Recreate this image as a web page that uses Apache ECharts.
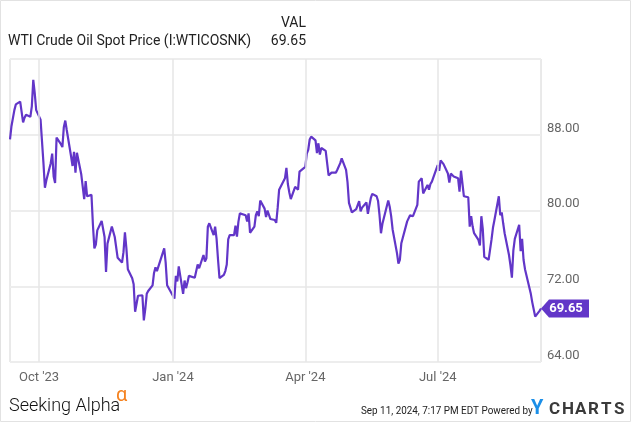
<!DOCTYPE html>
<html><head><meta charset="utf-8">
<script src="https://cdn.jsdelivr.net/npm/echarts@6/dist/echarts.min.js"></script>
<style>html,body{margin:0;padding:0;background:#fff}#c{width:635px;height:424px}</style>
</head><body><div id="c"></div>
<script>
const dates = [
'2023-09-11','2023-09-12','2023-09-13','2023-09-14','2023-09-15','2023-09-18','2023-09-19','2023-09-20','2023-09-21','2023-09-22',
'2023-09-25','2023-09-26','2023-09-27','2023-09-28','2023-09-29','2023-10-02','2023-10-03','2023-10-04','2023-10-05','2023-10-06',
'2023-10-09','2023-10-10','2023-10-11','2023-10-12','2023-10-13','2023-10-16','2023-10-17','2023-10-18','2023-10-19','2023-10-20',
'2023-10-23','2023-10-24','2023-10-25','2023-10-26','2023-10-27','2023-10-30','2023-10-31','2023-11-01','2023-11-02','2023-11-03',
'2023-11-06','2023-11-07','2023-11-08','2023-11-09','2023-11-10','2023-11-13','2023-11-14','2023-11-15','2023-11-16','2023-11-17',
'2023-11-20','2023-11-21','2023-11-22','2023-11-24','2023-11-27','2023-11-28','2023-11-29','2023-11-30','2023-12-01','2023-12-04',
'2023-12-05','2023-12-06','2023-12-07','2023-12-08','2023-12-11','2023-12-12','2023-12-13','2023-12-14','2023-12-15','2023-12-18',
'2023-12-19','2023-12-20','2023-12-21','2023-12-22','2023-12-26','2023-12-27','2023-12-28','2023-12-29','2024-01-02','2024-01-03',
'2024-01-04','2024-01-05','2024-01-08','2024-01-09','2024-01-10','2024-01-11','2024-01-12','2024-01-16','2024-01-17','2024-01-18',
'2024-01-19','2024-01-22','2024-01-23','2024-01-24','2024-01-25','2024-01-26','2024-01-29','2024-01-30','2024-01-31','2024-02-01',
'2024-02-02','2024-02-05','2024-02-06','2024-02-07','2024-02-08','2024-02-09','2024-02-12','2024-02-13','2024-02-14','2024-02-15',
'2024-02-16','2024-02-20','2024-02-21','2024-02-22','2024-02-23','2024-02-26','2024-02-27','2024-02-28','2024-02-29','2024-03-01',
'2024-03-04','2024-03-05','2024-03-06','2024-03-07','2024-03-08','2024-03-11','2024-03-12','2024-03-13','2024-03-14','2024-03-15',
'2024-03-18','2024-03-19','2024-03-20','2024-03-21','2024-03-22','2024-03-25','2024-03-26','2024-03-27','2024-03-28','2024-04-01',
'2024-04-02','2024-04-03','2024-04-04','2024-04-05','2024-04-08','2024-04-09','2024-04-10','2024-04-11','2024-04-12','2024-04-15',
'2024-04-16','2024-04-17','2024-04-18','2024-04-19','2024-04-22','2024-04-23','2024-04-24','2024-04-25','2024-04-26','2024-04-29',
'2024-04-30','2024-05-01','2024-05-02','2024-05-03','2024-05-06','2024-05-07','2024-05-08','2024-05-09','2024-05-10','2024-05-13',
'2024-05-14','2024-05-15','2024-05-16','2024-05-17','2024-05-20','2024-05-21','2024-05-22','2024-05-23','2024-05-24','2024-05-28',
'2024-05-29','2024-05-30','2024-05-31','2024-06-03','2024-06-04','2024-06-05','2024-06-06','2024-06-07','2024-06-10','2024-06-11',
'2024-06-12','2024-06-13','2024-06-14','2024-06-17','2024-06-18','2024-06-20','2024-06-21','2024-06-24','2024-06-25','2024-06-26',
'2024-06-27','2024-06-28','2024-07-01','2024-07-02','2024-07-03','2024-07-05','2024-07-08','2024-07-09','2024-07-10','2024-07-11',
'2024-07-12','2024-07-15','2024-07-16','2024-07-17','2024-07-18','2024-07-19','2024-07-22','2024-07-23','2024-07-24','2024-07-25',
'2024-07-26','2024-07-29','2024-07-30','2024-07-31','2024-08-01','2024-08-02','2024-08-05','2024-08-06','2024-08-07','2024-08-08',
'2024-08-09','2024-08-12','2024-08-13','2024-08-14','2024-08-15','2024-08-16','2024-08-19','2024-08-20','2024-08-21','2024-08-22',
'2024-08-23','2024-08-26','2024-08-27','2024-08-28','2024-08-29','2024-08-30','2024-09-03','2024-09-04','2024-09-05','2024-09-06',
'2024-09-09','2024-09-10'
];
const prices = [
87.5,88.9,88.7,90.6,91.2,91.5,91.35,89.3,89.8,90.1,
89.9,91.0,93.8,92.4,90.6,89.6,89.4,85.0,82.4,83.2,
85.0,86.0,83.6,82.9,87.7,87.0,86.7,88.8,89.5,88.5,
85.7,84.7,86.2,84.0,86.1,83.8,82.5,81.2,83.1,81.5,
81.65,78.5,76.0,76.4,77.9,78.9,78.9,77.2,73.5,76.5,
78.3,78.5,77.2,75.0,74.5,75.6,77.7,76.0,73.8,72.85,
72.2,69.3,69.1,71.0,71.05,68.4,69.6,71.2,71.5,72.1,
73.4,74.0,73.6,73.4,76.0,74.5,72.1,71.9,70.7,73.1,
72.5,74.1,71.2,72.6,71.8,72.4,73.1,72.9,72.7,74.3,
73.9,75.3,74.6,74.95,78.3,78.65,77.4,78.3,77.0,74.8,
72.85,73.2,73.6,74.3,76.95,77.4,77.4,78.4,77.25,78.8,
79.7,79.5,78.85,79.7,77.65,78.3,79.5,79.9,79.4,81.05,
80.2,79.3,80.0,80.2,79.1,79.0,78.7,80.3,82.2,82.0,
83.4,84.5,82.8,81.9,81.2,82.5,82.3,82.2,84.1,84.6,
86.0,86.4,87.5,87.8,87.4,86.05,87.1,85.9,86.6,86.3,
86.2,83.7,83.9,84.0,84.0,84.3,84.2,85.0,85.5,84.3,
83.0,80.8,80.8,79.8,80.15,80.1,81.0,79.9,80.3,80.85,
79.65,80.5,81.3,81.76,81.5,81.0,79.5,77.6,78.6,81.05,
80.4,79.4,78.0,75.5,74.4,74.8,76.55,76.7,78.85,79.0,
79.5,79.5,79.4,80.6,83.05,83.4,81.8,82.7,82.2,82.8,
83.05,82.9,84.8,84.2,85.3,84.9,83.9,82.95,83.9,83.7,
83.6,83.4,82.0,84.2,84.2,81.5,81.4,78.3,79.4,78.3,
77.6,76.9,76.3,79.4,78.0,75.1,74.8,74.6,76.95,78.2,
79.0,81.5,79.5,79.8,78.65,77.6,75.3,74.2,72.9,75.8,
77.0,78.5,75.7,77.0,74.8,73.8,71.2,70.3,70.1,68.8,
69.4,69.65
];
const xTickDates = ['2023-10-01','2024-01-01','2024-04-01','2024-07-01'];
const xTickLabels = ["Oct '23","Jan '24","Apr '24","Jul '24"];
const yMin = 64, yMax = 96, yStep = 8;
const axisStart = '2023-09-11', axisEnd = '2024-09-10';
const seriesName = 'WTI Crude Oil Spot Price (I:WTICOSNK)';
const logoLetters = ['C', 'H', 'A', 'R', 'T', 'S'];

const toTime = s => +new Date(s + 'T00:00:00');
const lineColor = '#6236c8';
const last = prices.length - 1;
const font = 'Roboto, "Noto Sans", sans-serif';

const logo = logoLetters.map((ch, i) => ({
  type: 'text', left: 549 + i * 13, top: 401,
  style: {text: ch, font: 'bold 17px ' + font, fill: '#3a3a3a'}
}));

const chart = echarts.init(document.getElementById('c'), null, {renderer: 'canvas'});
chart.setOption({
  animation: false,
  backgroundColor: '#fff',
  grid: {left: 10, right: 94, top: 59, bottom: 62, containLabel: false,
         show: true, borderColor: '#d4d4d4', borderWidth: 1},
  xAxis: {
    type: 'time', min: toTime(axisStart), max: toTime(axisEnd),
    axisLine: {show: false}, axisTick: {show: false},
    splitLine: {show: false}, axisLabel: {show: false}
  },
  yAxis: {
    type: 'value', position: 'right', min: yMin, max: yMax, interval: yStep,
    axisLine: {show: false}, axisTick: {show: false},
    splitLine: {show: true, lineStyle: {color: '#ededed', width: 2}},
    axisLabel: {color: '#666', fontSize: 13, fontFamily: font, margin: 6, showMaxLabel: false,
      verticalAlign: 'bottom', formatter: v => v.toFixed(2)}
  },
  series: [{
    type: 'line', data: [], z: 1, silent: true,
    markLine: {
      silent: true, symbol: ['none', 'none'], animation: false,
      lineStyle: {color: '#e6e6e6', width: 1.5, type: 'solid'},
      label: {show: true, position: 'start', distance: 9, color: '#666', fontSize: 13, fontFamily: font, formatter: '{b}'},
      data: xTickDates.map((d, i) => ({xAxis: toTime(d), name: xTickLabels[i]}))
    }
  }, {
    name: seriesName, type: 'line', showSymbol: false, symbol: 'none',
    data: dates.map((d, i) => [d, prices[i]]),
    lineStyle: {color: lineColor, width: 2.2}, itemStyle: {color: lineColor}, z: 3,
    markPoint: {
      symbol: 'path://M0,9L8,0L48,0L48,18L8,18Z', symbolSize: [48, 18], symbolOffset: ['50%', 0],
      itemStyle: {color: lineColor}, silent: true,
      label: {show: true, position: 'inside', color: '#fff', fontWeight: 'bold', fontSize: 13, fontFamily: font,
        offset: [1, 0], formatter: p => p.value.toFixed(2)},
      data: [{coord: [dates[last], prices[last]], value: prices[last]}]
    }
  }],
  graphic: [
    {type: 'rect', shape: {x: 0.5, y: 0.5, width: 630, height: 421}, style: {fill: 'none', stroke: '#e2e2e2', lineWidth: 1}, silent: true},
    {type: 'text', left: 8, top: 34, style: {text: seriesName, font: '14px ' + font, fill: '#222'}},
    {type: 'text', right: 329, top: 16, style: {text: 'VAL', font: '14px ' + font, fill: '#222', align: 'right'}},
    {type: 'text', right: 329, top: 34, style: {text: prices[last].toFixed(2), font: '14px ' + font, fill: '#222', align: 'right'}},
    {type: 'text', left: 9, top: 397, style: {text: 'Seeking Alpha', font: '300 18px ' + font, fill: '#111'}},
    {type: 'text', left: 116, top: 386, style: {text: 'α', font: '20px ' + font, fill: '#f5821f'}},
    {type: 'text', left: 361, top: 405, scaleX: 0.86, style: {text: 'Sep 11, 2024, 7:17 PM EDT Powered by', font: '11.5px ' + font, fill: '#222'}},
    {type: 'text', left: 531, top: 399, style: {text: 'Y', font: 'bold 20px ' + font, fill: '#1b8fe8'}}
  ].concat(logo)
});
</script></body></html>
